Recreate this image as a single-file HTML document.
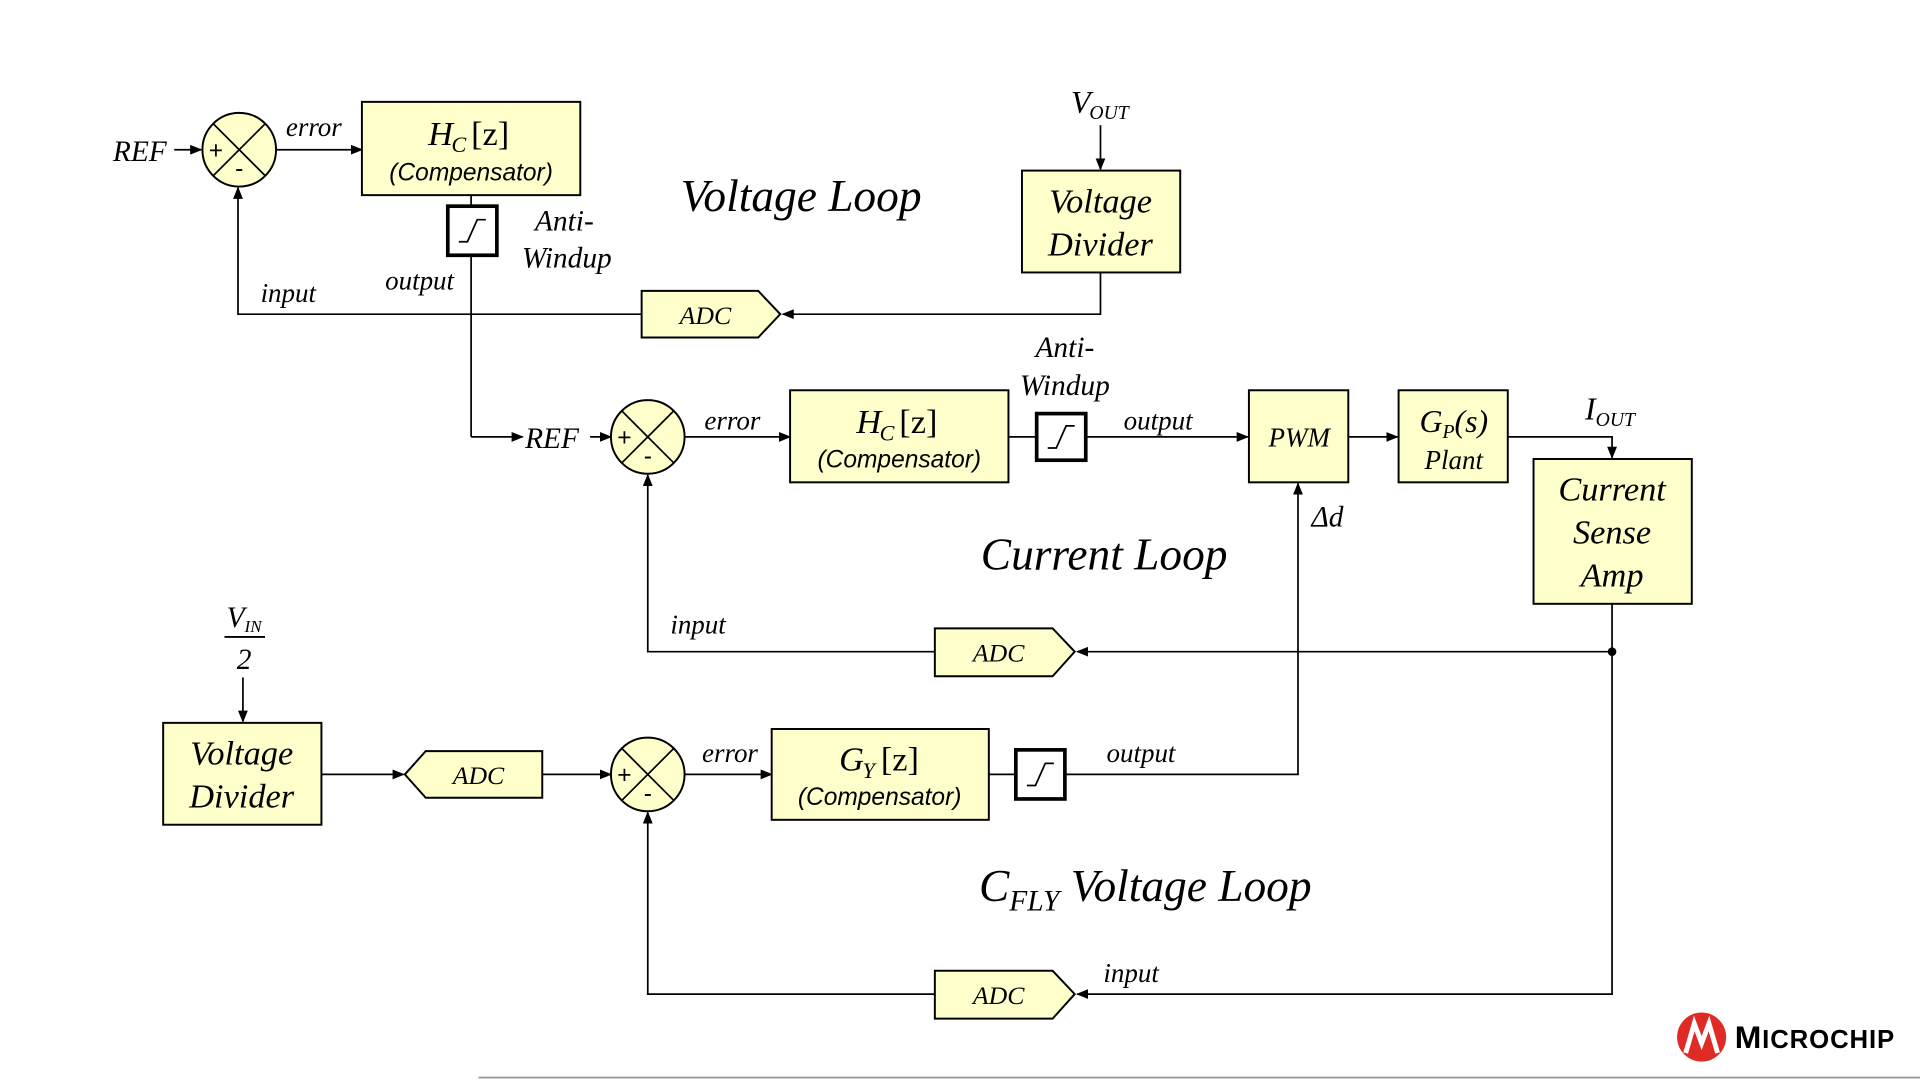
<!DOCTYPE html>
<html><head><meta charset="utf-8"><style>
html,body{margin:0;padding:0;background:#fff;}
svg{display:block;}
text{font-family:"Liberation Serif",serif;font-style:italic;fill:#000;}
.s{font-family:"Liberation Sans",sans-serif;}
.b{fill:#ffffcc;stroke:#000;stroke-width:1.6;}
.l{stroke:#000;stroke-width:1.4;fill:none;}
.aw{fill:#fff;stroke:#000;stroke-width:3;}
</style></head><body>
<svg width="1920" height="1080" viewBox="0 0 1565 880" preserveAspectRatio="none" xmlns="http://www.w3.org/2000/svg">
<defs>
<marker id="a" markerWidth="10" markerHeight="8" refX="9" refY="4" orient="auto" markerUnits="userSpaceOnUse"><path d="M0,0 L10,4 L0,8 z" fill="#000"/></marker>
<g id="sum"><circle r="30" class="b"/><path d="M-21,-21 L21,21 M21,-21 L-21,21" class="l"/><text x="-19" y="7" class="s" style="font-style:normal;font-size:20px" text-anchor="middle">+</text><text x="0" y="22" class="s" style="font-style:normal;font-size:20px" text-anchor="middle">-</text></g>
<g id="aw"><path d="M-11,9 L-4,9 L4,-9 L11,-9" class="l" stroke-width="1.6"/></g>
</defs>

<!-- Voltage loop -->
<text x="92" y="131" font-size="24">REF</text>
<line x1="142" y1="122" x2="164" y2="122" class="l" marker-end="url(#a)"/>
<use href="#sum" x="195" y="122"/>
<text x="233" y="111" font-size="22">error</text>
<line x1="225" y1="122" x2="295" y2="122" class="l" marker-end="url(#a)"/>
<rect x="295" y="83" width="178" height="76" class="b"/>
<text x="349" y="118" font-size="28">H</text><text x="368" y="124" font-size="18">C</text><text x="384" y="118" font-size="28" style="font-style:normal">[z]</text>
<text x="384" y="147" font-size="20" class="s" text-anchor="middle">(Compensator)</text>
<line x1="384" y1="159" x2="384" y2="356" class="l"/>
<line x1="384" y1="356" x2="426" y2="356" class="l" marker-end="url(#a)"/>
<rect x="365" y="168" width="40" height="40" class="aw"/><use href="#aw" x="385" y="188"/>
<text x="460" y="188" font-size="24" text-anchor="middle">Anti-</text>
<text x="462" y="218" font-size="24" text-anchor="middle">Windup</text>
<text x="342" y="236" font-size="22" text-anchor="middle">output</text>
<text x="235" y="246" font-size="22" text-anchor="middle">input</text>
<polyline points="523,256 194,256 194,153" class="l" marker-end="url(#a)"/>
<polygon points="523,237 618,237 636,256 618,275 523,275" class="b"/>
<text x="575" y="264" font-size="21" text-anchor="middle">ADC</text>
<polyline points="897,222 897,256 638,256" class="l" marker-end="url(#a)"/>
<rect x="833" y="139" width="129" height="83" class="b"/>
<text x="897" y="173" font-size="28" text-anchor="middle">Voltage</text>
<text x="897" y="208" font-size="28" text-anchor="middle">Divider</text>
<text x="873" y="92" font-size="26">V</text><text x="888" y="97" font-size="16">OUT</text>
<line x1="897" y1="102" x2="897" y2="138" class="l" marker-end="url(#a)"/>
<text x="653" y="172" font-size="37" text-anchor="middle">Voltage Loop</text>

<!-- Current loop -->
<text x="428" y="365" font-size="24">REF</text>
<line x1="481" y1="356" x2="498" y2="356" class="l" marker-end="url(#a)"/>
<use href="#sum" x="528" y="356"/>
<text x="597" y="350" font-size="22" text-anchor="middle">error</text>
<line x1="558" y1="356" x2="644" y2="356" class="l" marker-end="url(#a)"/>
<rect x="644" y="318" width="178" height="75" class="b"/>
<text x="698" y="353" font-size="28">H</text><text x="717" y="359" font-size="18">C</text><text x="733" y="353" font-size="28" style="font-style:normal">[z]</text>
<text x="733" y="381" font-size="20" class="s" text-anchor="middle">(Compensator)</text>
<line x1="822" y1="356" x2="845" y2="356" class="l"/>
<rect x="845" y="337" width="40" height="38" class="aw"/><use href="#aw" x="865" y="356"/>
<line x1="885" y1="356" x2="1017" y2="356" class="l" marker-end="url(#a)"/>
<text x="944" y="350" font-size="22" text-anchor="middle">output</text>
<text x="868" y="291" font-size="24" text-anchor="middle">Anti-</text>
<text x="868" y="322" font-size="24" text-anchor="middle">Windup</text>
<rect x="1018" y="318" width="81" height="75" class="b"/>
<text x="1059" y="364" font-size="22" text-anchor="middle">PWM</text>
<line x1="1099" y1="356" x2="1139" y2="356" class="l" marker-end="url(#a)"/>
<rect x="1140" y="318" width="89" height="75" class="b"/>
<text x="1185" y="352" font-size="26" text-anchor="middle">G<tspan font-size="16" dy="5">P</tspan><tspan dy="-5">(s)</tspan></text>
<text x="1185" y="382" font-size="22" text-anchor="middle">Plant</text>
<polyline points="1229,356 1314,356 1314,373" class="l" marker-end="url(#a)"/>
<text x="1292" y="342" font-size="26">I<tspan font-size="16" dy="5">OUT</tspan></text>
<rect x="1250" y="374" width="129" height="118" class="b"/>
<text x="1314" y="408" font-size="28" text-anchor="middle">Current</text>
<text x="1314" y="443" font-size="28" text-anchor="middle">Sense</text>
<text x="1314" y="478" font-size="28" text-anchor="middle">Amp</text>
<polyline points="1314,492 1314,810 878,810" class="l" marker-end="url(#a)"/>
<circle cx="1314" cy="531" r="3.5" fill="#000"/>
<line x1="1314" y1="531" x2="878" y2="531" class="l" marker-end="url(#a)"/>
<polygon points="762,512 858,512 876,531 858,551 762,551" class="b"/>
<text x="814" y="539" font-size="21" text-anchor="middle">ADC</text>
<polyline points="762,531 528,531 528,387" class="l" marker-end="url(#a)"/>
<text x="569" y="516" font-size="22" text-anchor="middle">input</text>
<text x="1082" y="429" font-size="24" text-anchor="middle">Δd</text>
<text x="900" y="464" font-size="37" text-anchor="middle">Current Loop</text>
<polyline points="869,631 1058,631 1058,394" class="l" marker-end="url(#a)"/>

<!-- CFLY loop -->
<text x="199" y="511" font-size="24" text-anchor="middle">V<tspan font-size="14" dy="4">IN</tspan></text>
<line x1="183" y1="519" x2="216" y2="519" stroke="#000" stroke-width="1.5"/>
<text x="199" y="545" font-size="24" text-anchor="middle">2</text>
<line x1="198" y1="552" x2="198" y2="588" class="l" marker-end="url(#a)"/>
<rect x="133" y="589" width="129" height="83" class="b"/>
<text x="197" y="623" font-size="28" text-anchor="middle">Voltage</text>
<text x="197" y="658" font-size="28" text-anchor="middle">Divider</text>
<line x1="262" y1="631" x2="329" y2="631" class="l" marker-end="url(#a)"/>
<polygon points="330,631 347,612 442,612 442,650 347,650" class="b"/>
<text x="390" y="639" font-size="21" text-anchor="middle">ADC</text>
<line x1="442" y1="631" x2="498" y2="631" class="l" marker-end="url(#a)"/>
<use href="#sum" x="528" y="631"/>
<text x="595" y="621" font-size="22" text-anchor="middle">error</text>
<line x1="558" y1="631" x2="629" y2="631" class="l" marker-end="url(#a)"/>
<rect x="629" y="594" width="177" height="74" class="b"/>
<text x="684" y="628" font-size="28">G</text><text x="703" y="634" font-size="18">Y</text><text x="718" y="628" font-size="28" style="font-style:normal">[z]</text>
<text x="717" y="656" font-size="20" class="s" text-anchor="middle">(Compensator)</text>
<line x1="806" y1="631" x2="828" y2="631" class="l"/>
<rect x="828" y="611" width="40" height="40" class="aw"/><use href="#aw" x="848" y="631"/>
<text x="930" y="621" font-size="22" text-anchor="middle">output</text>
<polygon points="762,791 858,791 876,810 858,830 762,830" class="b"/>
<text x="814" y="818" font-size="21" text-anchor="middle">ADC</text>
<polyline points="762,810 528,810 528,662" class="l" marker-end="url(#a)"/>
<text x="922" y="800" font-size="22" text-anchor="middle">input</text>
<text x="798" y="734" font-size="37">C<tspan font-size="24" dy="8">FLY</tspan><tspan dy="-8"> Voltage Loop</tspan></text>

<!-- logo -->
<line x1="390" y1="878" x2="1565" y2="878" stroke="#999" stroke-width="1.5"/>
<circle cx="1387" cy="845" r="20" fill="#e02a26"/>
<path d="M1374,858 L1381,834 L1387,850 L1393,834 L1400,858" stroke="#fff" stroke-width="4" fill="none"/>
<text x="1414" y="854" font-size="26" class="s" style="font-style:normal;font-weight:bold" fill="#222" textLength="130">M<tspan font-size="21">ICROCHIP</tspan></text>
</svg>
</body></html>
